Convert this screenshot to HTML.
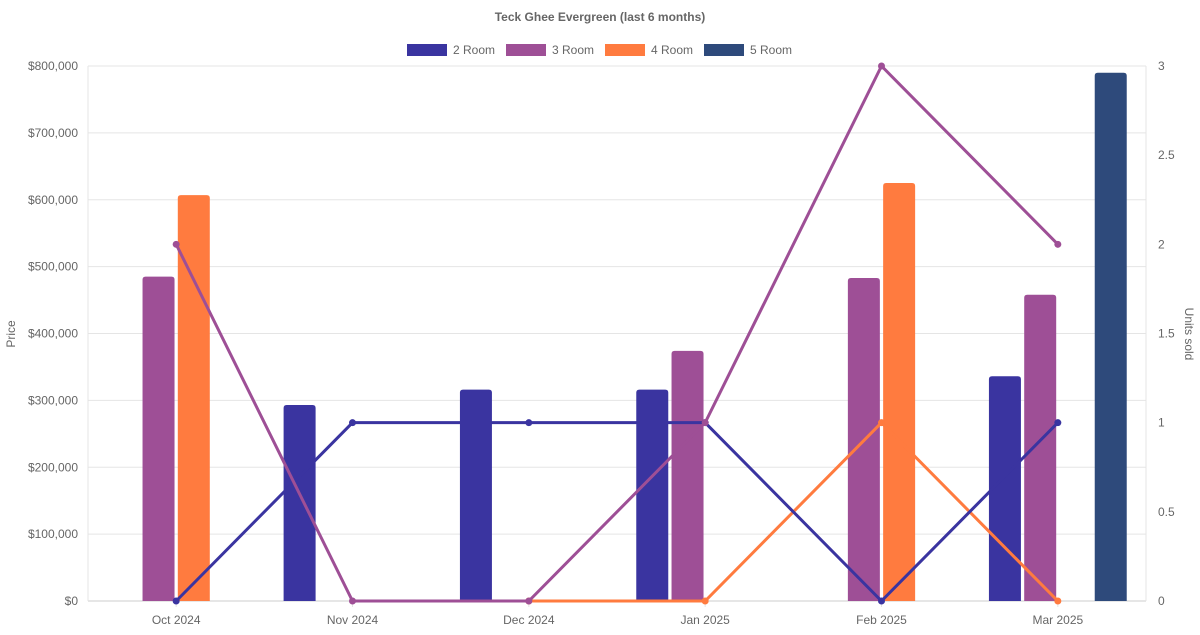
<!DOCTYPE html>
<html><head><meta charset="utf-8"><style>
body{margin:0;background:#fff;font-family:"Liberation Sans",sans-serif;}
svg text{font-family:"Liberation Sans",sans-serif;fill:#666;}
</style></head><body>
<svg id="c" width="1200" height="630" xmlns="http://www.w3.org/2000/svg">
<text x="600" y="21" text-anchor="middle" font-size="12" font-weight="bold">Teck Ghee Evergreen (last 6 months)</text>
<g id="grid"></g><g id="bars"></g><g id="lines"></g><g id="axes"></g><g id="legend"></g>
<text transform="translate(15,334) rotate(-90)" text-anchor="middle" font-size="12">Price</text>
<text transform="translate(1185,334) rotate(90)" text-anchor="middle" font-size="12">Units sold</text>
</svg>
<script>
const categories=["Oct 2024","Nov 2024","Dec 2024","Jan 2025","Feb 2025","Mar 2025"];
const seriesNames=["2 Room","3 Room","4 Room","5 Room"];
const colors=["#3a34a0","#9e4f96","#ff7b3f","#2e4a7b"];
const price2=[0,293000,316000,316000,0,336000];
const price3=[485000,0,0,374000,483000,458000];
const price4=[607000,0,0,0,625000,0];
const price5=[0,0,0,0,0,790000];
const units2=[0,1,1,1,0,1];
const units3=[2,0,0,1,3,2];
const units4=[null,null,0,0,1,0];
const priceTicks=[0,100000,200000,300000,400000,500000,600000,700000,800000];
const unitTicks=[0,0.5,1,1.5,2,2.5,3];
const NS="http://www.w3.org/2000/svg";
const L=88,R=1146,T=66,B=601,cw=(R-L)/categories.length;
const y=v=>B-(v/800000)*(B-T);
const y2=v=>B-(v/3)*(B-T);
const xc=i=>L+cw*(i+0.5);
function mk(tag,attrs,parent){const e=document.createElementNS(NS,tag);for(const k in attrs)e.setAttribute(k,attrs[k]);document.getElementById(parent).appendChild(e);return e;}
priceTicks.forEach((t,i)=>{
  const g=mk('line',{x1:L,x2:R,y1:y(t),y2:y(t),stroke:i==0?'#ccc':'#e5e5e5','stroke-width':1},'grid');
  
  
  const tx=mk('text',{x:L-10,y:y(t)+4,'text-anchor':'end','font-size':12},'axes');
  tx.textContent='$'+t.toLocaleString('en-US');
  
  
});
mk('line',{x1:L,x2:L,y1:T,y2:B,stroke:'#e5e5e5'},'grid');
mk('line',{x1:R,x2:R,y1:T,y2:B,stroke:'#e5e5e5'},'grid');
unitTicks.forEach(t=>{
  const tx=mk('text',{x:R+12,y:y2(t)+4,'font-size':12},'axes');
  tx.textContent=String(t);
  
  
});
categories.forEach((c,i)=>{
  mk('line',{x1:xc(i),x2:xc(i),y1:B,y2:B+6,stroke:'#e5e5e5'},'grid');
  const tx=mk('text',{x:xc(i),y:B+23,'text-anchor':'middle','font-size':12},'axes');
  tx.textContent=c;
  
  
});
const prices=[price2,price3,price4,price5];
const slot=cw*0.8/4,bw=32;
prices.forEach((arr,s)=>{
  arr.forEach((v,i)=>{
    if(!v)return;
    const cx=xc(i)+(s-1.5)*slot;const top=y(v);const h=B-top;const r=3;
    const x0=cx-bw/2;
    const p=mk('path',{d:`M${x0},${B}V${top+r}Q${x0},${top} ${x0+r},${top}H${x0+bw-r}Q${x0+bw},${top} ${x0+bw},${top+r}V${B}Z`,fill:colors[s]},'bars');
    
    
  });
});
const units=[units2,units3,units4];
[2,0,1].forEach(s=>{
  const arr=units[s];let d='';
  arr.forEach((v,i)=>{if(v===null)return;d+=(d?'L':'M')+xc(i)+','+y2(v);});
  const p=mk('path',{d:d,fill:'none',stroke:colors[s],'stroke-width':3},'lines');
  
  
  arr.forEach((v,i)=>{if(v===null)return;
    const c=mk('circle',{cx:xc(i),cy:y2(v),r:3.5,fill:colors[s]},'lines');
    
    
  });
});
const lx=[407,506,605,704];
seriesNames.forEach((n,s)=>{
  const r=mk('rect',{x:lx[s],y:44,width:40,height:12,fill:colors[s]},'legend');
  
  
  const t=mk('text',{x:lx[s]+46,y:54,'font-size':12},'legend');
  t.textContent=n;
  
  
});
</script>
</body></html>
